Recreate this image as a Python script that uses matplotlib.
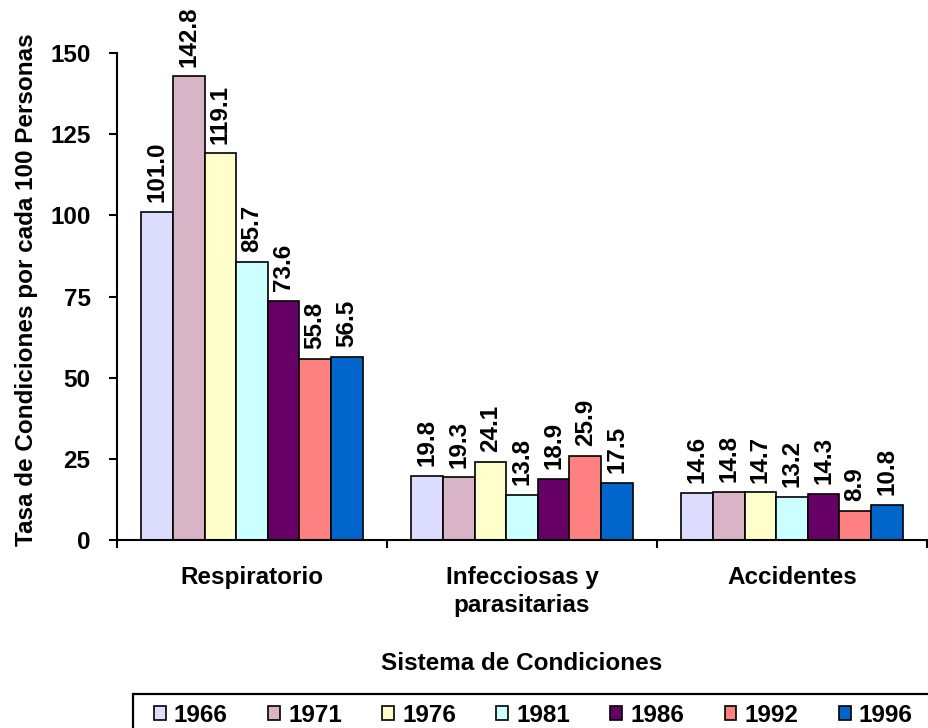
import matplotlib
matplotlib.use("Agg")
import matplotlib.pyplot as plt
import numpy as np
from matplotlib.patches import Rectangle

categories = ["Respiratorio", "Infecciosas y\nparasitarias", "Accidentes"]
years = ["1966", "1971", "1976", "1981", "1986", "1992", "1996"]
v1966 = [101.0, 19.8, 14.6]
v1971 = [142.8, 19.3, 14.8]
v1976 = [119.1, 24.1, 14.7]
v1981 = [85.7, 13.8, 13.2]
v1986 = [73.6, 18.9, 14.3]
v1992 = [55.8, 25.9, 8.9]
v1996 = [56.5, 17.5, 10.8]
series = [v1966, v1971, v1976, v1981, v1986, v1992, v1996]
colors = ["#DCDCFF", "#D9B3C6", "#FFFFCC", "#CCFFFF", "#660066", "#FF8080", "#0066CC"]
yticks = [0, 25, 50, 75, 100, 125, 150]
ylabel = "Tasa de Condiciones por cada 100 Personas"
xlabel = "Sistema de Condiciones"

plt.rcParams['font.family'] = ['Liberation Sans', 'DejaVu Sans']
plt.rcParams['font.weight'] = 'bold'
FS = 17.5

W, H = 929, 728
fig = plt.figure(figsize=(W / 100, H / 100), dpi=100)
left, right, top, bottom = 117, 927, 53, 540
ax = fig.add_axes([left / W, 1 - bottom / H, (right - left) / W, (bottom - top) / H])

x = np.arange(len(categories))
bw = 0.117
n = len(series)
for i, (vals, c, yr) in enumerate(zip(series, colors, years)):
    pos = x + (i - (n - 1) / 2) * bw
    bars = ax.bar(pos, vals, width=bw, color=c, edgecolor="black", linewidth=1.2, label=yr)
    for b, v in zip(bars, vals):
        ax.annotate(f"{v:.1f}", (b.get_x() + b.get_width() / 2, b.get_height()),
                    xytext=(0, 7), textcoords="offset points", rotation=90,
                    ha="center", va="bottom", fontsize=FS, fontweight="bold")

ax.set_xlim(-0.5, len(categories) - 0.5)
ax.set_ylim(0, 150)
ax.set_yticks(yticks)
ax.set_yticklabels([str(t) for t in yticks], fontsize=FS, fontweight="bold")
ax.set_xticks(x)
ax.set_xticklabels(categories, fontsize=FS, fontweight="bold", linespacing=1.28)
ax.set_xticks(np.arange(-0.5, len(categories)), minor=True)
ax.tick_params(axis="x", which="major", length=0, pad=19)
ax.tick_params(axis="x", which="minor", length=6, width=1.5, direction="out")
ax.tick_params(axis="y", length=6, width=1.5, direction="out", pad=13)

for s in ["top", "right"]:
    ax.spines[s].set_visible(False)
for s in ["left", "bottom"]:
    ax.spines[s].set_linewidth(1.5)

ax.set_ylabel(ylabel, fontsize=FS, fontweight="bold")
ax.yaxis.set_label_coords((27 - left) / (right - left), (bottom - 290) / (bottom - top))
ax.yaxis.label.set_va("center")
ax.set_xlabel(xlabel, fontsize=FS, fontweight="bold")
ax.xaxis.set_label_coords(0.5, (bottom - 663) / (bottom - top))
ax.xaxis.label.set_va("center")

# legend frame
fig.patches.append(Rectangle((133 / W, -0.05), 0.95, (1 - 694 / H) + 0.05,
                             transform=fig.transFigure, fill=False,
                             edgecolor="black", linewidth=1.6))
handles, labels = ax.get_legend_handles_labels()
leg = fig.legend(handles, labels, ncol=7, loc="center left",
                 bbox_to_anchor=(154 / W, 1 - 715 / H), frameon=False,
                 prop={"size": FS, "weight": "bold"},
                 handlelength=0.49, handleheight=0.49, handletextpad=0.33,
                 columnspacing=1.66, borderpad=0, borderaxespad=0)

fig.savefig("out.png", dpi=100)
